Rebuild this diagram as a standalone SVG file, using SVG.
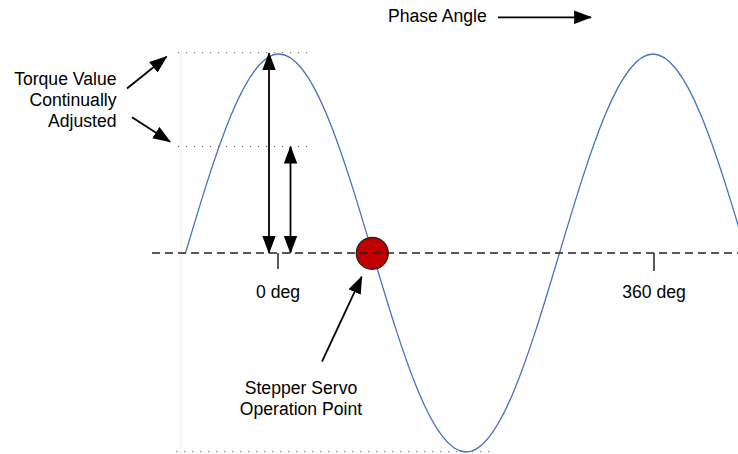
<svg xmlns="http://www.w3.org/2000/svg" width="738" height="454" viewBox="0 0 738 454">
<defs>
<style>
text{font-family:"Liberation Sans",Arial,sans-serif;font-size:17.6px;fill:#000}
.arr{stroke:#000;stroke-width:1.8;fill:none}
.dot{stroke:#666;stroke-width:1;stroke-dasharray:1.2 6.8;fill:none}
.wave{stroke:#4472C4;stroke-width:1.3;fill:none}
.base{stroke:#222;stroke-width:1.5;stroke-dasharray:8 5;fill:none}
.tick{stroke:#222;stroke-width:1.5}
</style>
<marker id="ah" markerUnits="userSpaceOnUse" markerWidth="18" markerHeight="14" viewBox="0 0 16 12" refX="15" refY="6" orient="auto-start-reverse">
<path d="M0,0 L16,6 L0,12 Z" fill="#000"/>
</marker>
<clipPath id="cp"><rect x="0" y="0" width="738" height="454"/></clipPath>
</defs>
<rect width="738" height="454" fill="#fff"/>
<line x1="181" y1="50" x2="181" y2="454" stroke="#eeeeee" stroke-width="1"/>
<g id="guides">
<line class="dot" x1="178" y1="52.7" x2="312" y2="52.7"/>
<line class="dot" x1="178" y1="146.5" x2="312" y2="146.5"/>
<line class="dot" x1="176" y1="451.7" x2="492" y2="451.7"/>
</g>
<g id="wave" clip-path="url(#cp)">
<path class="wave" d="M185.5,253 C216,151.06 245.16,54 279,54 C312.84,54 342.01,151.06 372.5,253 C403,354.94 432.16,452 466,452 C499.84,452 529.01,354.94 559.5,253 C590,151.06 619.16,54 653,54 C686.84,54 716.01,151.06 746.5,253"/>
</g>
<g id="operation-point">
<circle cx="372.3" cy="253.3" r="16" fill="#C00000" stroke="#222" stroke-width="1.2"/>
</g>
<g id="axis">
<line class="base" x1="152" y1="253" x2="738" y2="253"/>
<line class="tick" x1="278" y1="253" x2="278" y2="269"/>
<line class="tick" x1="654" y1="253" x2="654" y2="271"/>
</g>
<g id="connectors">
<line class="arr" x1="269" y1="252.7" x2="269" y2="53.3" marker-start="url(#ah)" marker-end="url(#ah)"/>
<line class="arr" x1="290.5" y1="252.7" x2="290.5" y2="146.7" marker-start="url(#ah)" marker-end="url(#ah)"/>
<line class="arr" x1="127" y1="88.5" x2="166.5" y2="56.7" marker-end="url(#ah)"/>
<line class="arr" x1="132" y1="117.3" x2="170" y2="141.7" marker-end="url(#ah)"/>
<line class="arr" x1="322" y1="361.7" x2="361.7" y2="276.7" marker-end="url(#ah)"/>
<line class="arr" x1="498" y1="17.3" x2="591" y2="17.3" marker-end="url(#ah)"/>
</g>
<g id="label-phase"><text x="388" y="22">Phase Angle</text></g>
<g id="label-torque">
<text x="116.5" y="84.5" text-anchor="end">Torque Value</text>
<text x="116.5" y="106" text-anchor="end">Continually</text>
<text x="116.5" y="126.5" text-anchor="end">Adjusted</text>
</g>
<g id="label-0"><text x="278" y="298" text-anchor="middle">0 deg</text></g>
<g id="label-360"><text x="654" y="298" text-anchor="middle">360 deg</text></g>
<g id="label-stepper">
<text x="301" y="393.5" text-anchor="middle">Stepper Servo</text>
<text x="301" y="414.5" text-anchor="middle">Operation Point</text>
</g>
</svg>
